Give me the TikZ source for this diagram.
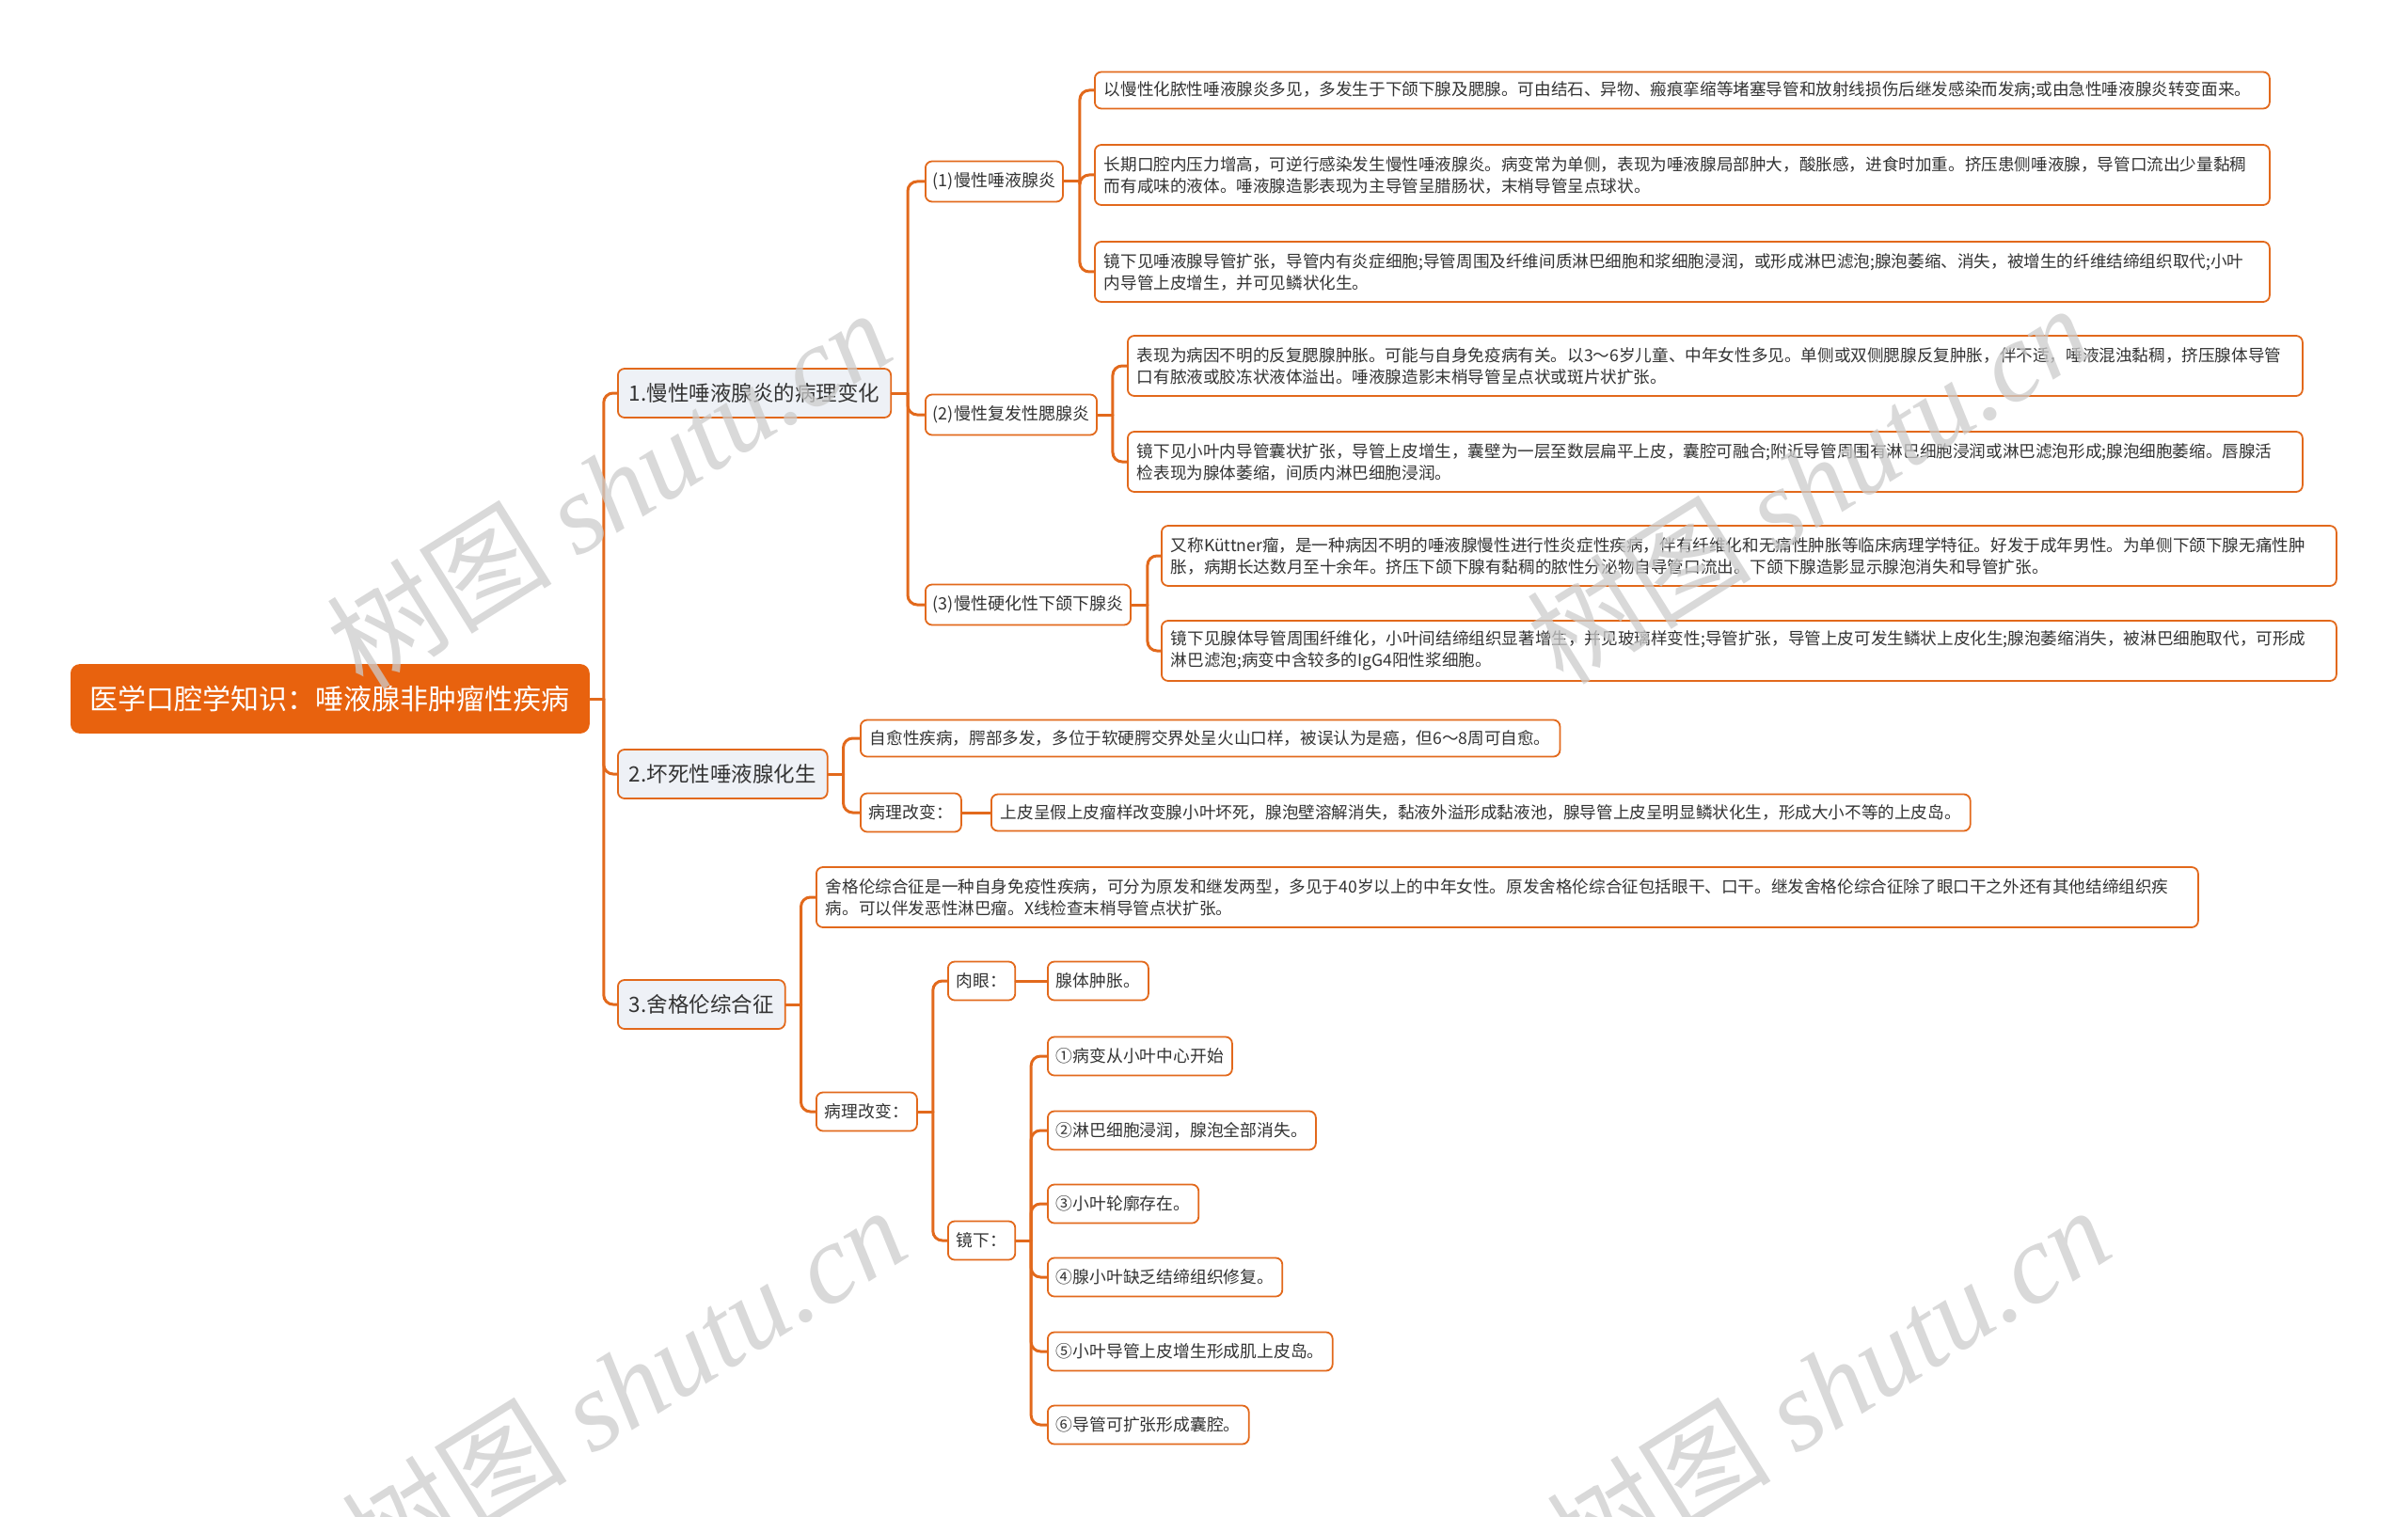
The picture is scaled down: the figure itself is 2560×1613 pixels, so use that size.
\documentclass[tikz,border=0pt]{standalone}
\usepackage{fontspec}
\setmainfont{Noto Sans CJK SC}
\newfontfamily\wmlatin{Liberation Serif}
\usetikzlibrary{calc}
\definecolor{rootfill}{HTML}{E8620E}
\definecolor{lineC}{HTML}{E2691C}
\definecolor{lvone}{HTML}{EEF1F6}
\definecolor{txt}{HTML}{333333}
\begin{document}
\begin{tikzpicture}[x=1pt,y=-1pt,
  conn/.style={draw=lineC,line width=3pt,line cap=round},
  elbow/.style={conn,rounded corners=10pt},
  basebox/.style={draw=lineC,line width=1.8pt,rounded corners=7pt,fill=white,text=txt,anchor=west,inner ysep=0pt},
  rootbox/.style={basebox,fill=rootfill,draw=rootfill,text=white,minimum width=550pt,minimum height=72pt,rounded corners=9pt,font=\fontsize{30}{36}\selectfont},
  lone/.style={basebox,fill=lvone,minimum height=52pt,inner xsep=12pt,font=\fontsize{22.5}{28}\selectfont},
  ltwo/.style={basebox,minimum height=43pt,inner xsep=8pt,font=\fontsize{18}{23}\selectfont},
  small/.style={basebox,minimum height=41pt,inner xsep=9pt,font=\fontsize{17.8}{23}\selectfont},
  leafone/.style={basebox,minimum height=39pt,inner xsep=10pt,align=left,font=\fontsize{17.6}{23}\selectfont},
  leaftwo/.style={basebox,minimum height=64pt,inner xsep=10pt,align=left,font=\fontsize{17.6}{23}\selectfont},
  wide/.style={text width=1229pt},
  wmark/.style={text=black!20,text opacity=0.75,rotate=32,font=\fontsize{120}{130}\selectfont}
]
\useasboundingbox (0,0) rectangle (2560,1613);

% ---------- nodes ----------
\node[rootbox] (root) at (75,743) {医学口腔学知识：唾液腺非肿瘤性疾病};

\node[lone] (A) at (656,418) {1.慢性唾液腺炎的病理变化};
\node[lone] (B) at (656,823) {2.坏死性唾液腺化生};
\node[lone] (C) at (656,1068) {3.舍格伦综合征};

\node[ltwo] (A1) at (983,193) {(1)慢性唾液腺炎};
\node[ltwo] (A2) at (983,441) {(2)慢性复发性腮腺炎};
\node[ltwo] (A3) at (983,643) {(3)慢性硬化性下颌下腺炎};

\node[leafone,wide] (A1a) at (1163,96) {以慢性化脓性唾液腺炎多见，多发生于下颌下腺及腮腺。可由结石、异物、瘢痕挛缩等堵塞导管和放射线损伤后继发感染而发病;或由急性唾液腺炎转变面来。};
\node[leaftwo,wide] (A1b) at (1163,186) {长期口腔内压力增高，可逆行感染发生慢性唾液腺炎。病变常为单侧，表现为唾液腺局部肿大，酸胀感，进食时加重。挤压患侧唾液腺，导管口流出少量黏稠\\而有咸味的液体。唾液腺造影表现为主导管呈腊肠状，末梢导管呈点球状。};
\node[leaftwo,wide] (A1c) at (1163,289) {镜下见唾液腺导管扩张，导管内有炎症细胞;导管周围及纤维间质淋巴细胞和浆细胞浸润，或形成淋巴滤泡;腺泡萎缩、消失，被增生的纤维结缔组织取代;小叶\\内导管上皮增生，并可见鳞状化生。};

\node[leaftwo,wide] (A2a) at (1198,389) {表现为病因不明的反复腮腺肿胀。可能与自身免疫病有关。以3～6岁儿童、中年女性多见。单侧或双侧腮腺反复肿胀，伴不适，唾液混浊黏稠，挤压腺体导管\\口有脓液或胶冻状液体溢出。唾液腺造影末梢导管呈点状或斑片状扩张。};
\node[leaftwo,wide] (A2b) at (1198,491) {镜下见小叶内导管囊状扩张，导管上皮增生，囊壁为一层至数层扁平上皮，囊腔可融合;附近导管周围有淋巴细胞浸润或淋巴滤泡形成;腺泡细胞萎缩。唇腺活\\检表现为腺体萎缩，间质内淋巴细胞浸润。};

\node[leaftwo,wide] (A3a) at (1234,591) {又称Küttner瘤，是一种病因不明的唾液腺慢性进行性炎症性疾病，伴有纤维化和无痛性肿胀等临床病理学特征。好发于成年男性。为单侧下颌下腺无痛性肿\\胀，病期长达数月至十余年。挤压下颌下腺有黏稠的脓性分泌物自导管口流出。下颌下腺造影显示腺泡消失和导管扩张。};
\node[leaftwo,wide] (A3b) at (1234,692) {镜下见腺体导管周围纤维化，小叶间结缔组织显著增生，并见玻璃样变性;导管扩张，导管上皮可发生鳞状上皮化生;腺泡萎缩消失，被淋巴细胞取代，可形成\\淋巴滤泡;病变中含较多的IgG4阳性浆细胞。};

\node[leafone] (B1) at (914,785) {自愈性疾病，腭部多发，多位于软硬腭交界处呈火山口样，被误认为是癌，但6～8周可自愈。};
\node[small] (B2) at (914,864) {病理改变：};
\node[leafone] (B2a) at (1053,864) {上皮呈假上皮瘤样改变腺小叶坏死，腺泡壁溶解消失，黏液外溢形成黏液池，腺导管上皮呈明显鳞状化生，形成大小不等的上皮岛。};

\node[leaftwo,text width=1449pt] (C1) at (867,954) {舍格伦综合征是一种自身免疫性疾病，可分为原发和继发两型，多见于40岁以上的中年女性。原发舍格伦综合征包括眼干、口干。继发舍格伦综合征除了眼口干之外还有其他结缔组织疾\\病。可以伴发恶性淋巴瘤。X线检查末梢导管点状扩张。};
\node[small] (C2) at (867,1182) {病理改变：};
\node[small] (C2a) at (1007,1043) {肉眼：};
\node[small] (C2a1) at (1113,1043) {腺体肿胀。};
\node[small] (C2b) at (1007,1319) {镜下：};
\node[small] (M1) at (1113,1123) {①病变从小叶中心开始};
\node[small] (M2) at (1113,1202) {②淋巴细胞浸润，腺泡全部消失。};
\node[small] (M3) at (1113,1280) {③小叶轮廓存在。};
\node[small] (M4) at (1113,1358) {④腺小叶缺乏结缔组织修复。};
\node[small] (M5) at (1113,1437) {⑤小叶导管上皮增生形成肌上皮岛。};
\node[small] (M6) at (1113,1515) {⑥导管可扩张形成囊腔。};

% ---------- connectors ----------
\draw[conn] (root.east) -- ++(15,0) coordinate (t0);
\foreach \c in {A,B,C} \draw[elbow] (t0) |- (\c.west);

\draw[conn] (A.east) -- ++(17,0) coordinate (tA);
\foreach \c in {A1,A2,A3} \draw[elbow] (tA) |- (\c.west);

\draw[conn] (A1.east) -- ++(17,0) coordinate (tA1);
\foreach \c in {A1a,A1b,A1c} \draw[elbow] (tA1) |- (\c.west);

\draw[conn] (A2.east) -- ++(16,0) coordinate (tA2);
\foreach \c in {A2a,A2b} \draw[elbow] (tA2) |- (\c.west);

\draw[conn] (A3.east) -- ++(17,0) coordinate (tA3);
\foreach \c in {A3a,A3b} \draw[elbow] (tA3) |- (\c.west);

\draw[conn] (B.east) -- ++(16,0) coordinate (tB);
\foreach \c in {B1,B2} \draw[elbow] (tB) |- (\c.west);
\draw[conn] (B2.east) -- (B2a.west);

\draw[conn] (C.east) -- ++(16,0) coordinate (tC);
\foreach \c in {C1,C2} \draw[elbow] (tC) |- (\c.west);

\draw[conn] (C2.east) -- ++(16,0) coordinate (tC2);
\foreach \c in {C2a,C2b} \draw[elbow] (tC2) |- (\c.west);
\draw[conn] (C2a.east) -- (C2a1.west);

\draw[conn] (C2b.east) -- ++(16,0) coordinate (tC2b);
\foreach \c in {M1,M2,M3,M4,M5,M6} \draw[elbow] (tC2b) |- (\c.west);

% ---------- watermark ----------
\node[wmark] (wm1) at (647,519) {树图 {\wmlatin\itshape shutu.cn}};
\node[wmark] (wm2) at (1922,514) {树图 {\wmlatin\itshape shutu.cn}};
\node[wmark] (wm3) at (663,1473) {树图 {\wmlatin\itshape shutu.cn}};
\node[wmark] (wm4) at (1943,1473) {树图 {\wmlatin\itshape shutu.cn}};
\end{tikzpicture}
\end{document}
